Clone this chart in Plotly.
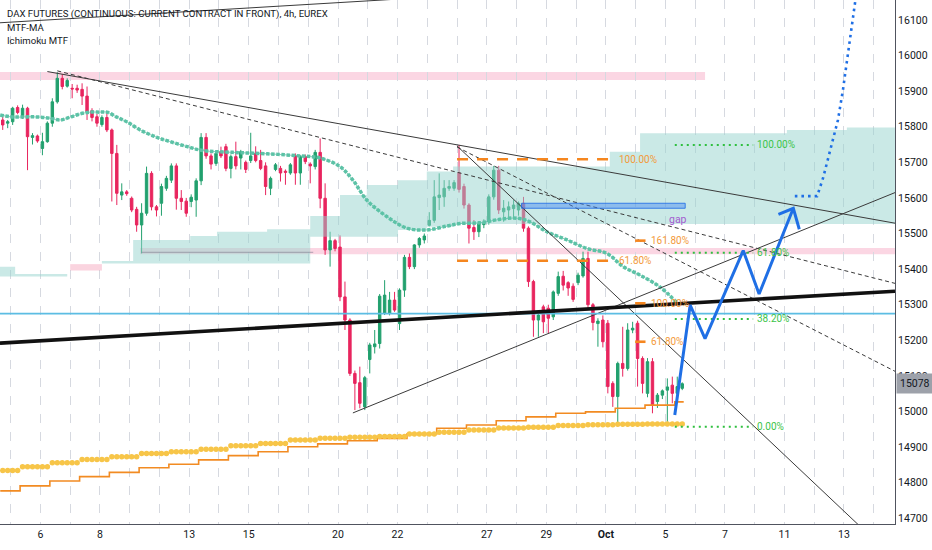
import plotly.graph_objects as go

# 4h candles, bar index 0 = first visible bar (Sep 3, 2021)
opens = [15819, 15810, 15814, 15854, 15828, 15852, 15770, 15774, 15739, 15758,
         15810, 15870, 15936, 15914, 15908, 15908, 15905, 15886, 15845, 15828,
         15806, 15826, 15791, 15725, 15608, 15617, 15599, 15568, 15524, 15557,
         15669, 15575, 15585, 15627, 15650, 15690, 15599, 15591, 15590, 15594,
         15648, 15770, 15718, 15697, 15730, 15744, 15683, 15716, 15712, 15700,
         15705, 15725, 15705, 15690, 15627, 15680, 15683, 15675, 15670, 15718,
         15670, 15716, 15695, 15688, 15728, 15599, 15454, 15480, 15462, 15322,
         15257, 15107, 15081, 15013, 15146, 15182, 15191, 15276, 15276, 15313,
         15247, 15341, 15433, 15407, 15468, 15482, 15523, 15537, 15601, 15603,
         15627, 15627, 15671, 15632, 15580, 15517, 15505, 15525, 15533, 15603,
         15678, 15561, 15566, 15570, 15566, 15585, 15515, 15365, 15257, 15294,
         15290, 15266, 15332, 15380, 15362, 15352, 15362, 15381, 15430, 15300,
         15247, 15257, 15248, 15079, 15042, 15135, 15121, 15229, 15248, 15149,
         15051, 15140, 15028, 15046, 15060, 15074, 15051, 15065]
highs = [15828, 15819, 15856, 15860, 15862, 15856, 15782, 15778, 15783, 15815,
         15880, 15953, 15948, 15936, 15920, 15918, 15922, 15913, 15852, 15836,
         15832, 15840, 15795, 15749, 15641, 15622, 15604, 15575, 15585, 15688,
         15675, 15580, 15640, 15662, 15697, 15697, 15622, 15600, 15610, 15655,
         15782, 15782, 15725, 15730, 15744, 15752, 15722, 15758, 15735, 15705,
         15783, 15745, 15735, 15700, 15660, 15698, 15690, 15680, 15698, 15725,
         15720, 15722, 15700, 15735, 15767, 15641, 15505, 15485, 15495, 15365,
         15262, 15115, 15126, 15100, 15193, 15229, 15330, 15369, 15336, 15336,
         15346, 15440, 15444, 15470, 15490, 15500, 15560, 15650, 15669, 15650,
         15650, 15650, 15749, 15640, 15585, 15538, 15535, 15540, 15610, 15690,
         15690, 15594, 15590, 15594, 15590, 15603, 15520, 15370, 15280, 15300,
         15300, 15340, 15393, 15395, 15366, 15360, 15390, 15449, 15449, 15305,
         15262, 15270, 15257, 15085, 15140, 15238, 15248, 15252, 15255, 15155,
         15150, 15150, 15052, 15062, 15093, 15098, 15098, 15082]
lows = [15791, 15796, 15805, 15835, 15822, 15678, 15750, 15755, 15720, 15755,
        15800, 15865, 15905, 15910, 15880, 15895, 15861, 15819, 15815, 15800,
        15800, 15785, 15590, 15580, 15594, 15606, 15560, 15505, 15444, 15550,
        15565, 15548, 15550, 15620, 15642, 15567, 15566, 15547, 15574, 15547,
        15636, 15710, 15680, 15690, 15712, 15675, 15655, 15680, 15680, 15670,
        15698, 15700, 15678, 15608, 15608, 15675, 15646, 15637, 15665, 15637,
        15637, 15695, 15641, 15680, 15571, 15440, 15407, 15450, 15310, 15229,
        15100, 15004, 15009, 15004, 15107, 15163, 15177, 15271, 15270, 15280,
        15229, 15322, 15400, 15400, 15460, 15472, 15520, 15530, 15566, 15575,
        15620, 15620, 15615, 15570, 15472, 15482, 15490, 15515, 15525, 15595,
        15555, 15533, 15540, 15545, 15550, 15505, 15350, 15210, 15210, 15220,
        15220, 15257, 15325, 15340, 15325, 15308, 15355, 15376, 15290, 15228,
        15182, 15180, 15051, 15013, 14967, 15098, 15115, 15220, 15070, 15051,
        15040, 14995, 15010, 15035, 14971, 15023, 15040, 15060]
closes = [15805, 15814, 15852, 15840, 15852, 15772, 15775, 15760, 15758, 15810,
          15870, 15936, 15913, 15930, 15906, 15903, 15886, 15842, 15826, 15810,
          15826, 15791, 15725, 15613, 15617, 15612, 15566, 15524, 15557, 15669,
          15575, 15566, 15632, 15655, 15690, 15599, 15590, 15557, 15602, 15648,
          15770, 15718, 15695, 15725, 15718, 15683, 15716, 15690, 15730, 15680,
          15718, 15705, 15683, 15632, 15655, 15693, 15670, 15672, 15693, 15670,
          15716, 15702, 15690, 15728, 15599, 15454, 15480, 15458, 15322, 15257,
          15107, 15079, 15023, 15095, 15187, 15190, 15324, 15327, 15313, 15285,
          15341, 15433, 15407, 15468, 15486, 15493, 15537, 15603, 15608, 15627,
          15632, 15643, 15624, 15580, 15515, 15505, 15528, 15530, 15603, 15678,
          15566, 15571, 15575, 15580, 15585, 15515, 15365, 15257, 15271, 15252,
          15262, 15336, 15379, 15355, 15347, 15315, 15383, 15430, 15300, 15250,
          15254, 15196, 15070, 15042, 15135, 15121, 15229, 15234, 15149, 15079,
          15140, 15018, 15046, 15058, 15069, 15051, 15070, 15078]
bars = list(range(len(opens)))

# day ticks (6 bars per trading day), first tick = Fri Sep 3
day_labels = ["", "6", "", "8", "", "", "13", "", "15", "", "", "20", "", "22", "",
              "", "27", "", "29", "", "<b>Oct</b>", "", "5", "", "7", "", "11", "", "13", ""]
day_ticks = [7.6 + 6 * (d - 1) for d in range(len(day_labels))]
price_ticks = list(range(14700, 16101, 100))

# MTF-MA: daily steps (first step change at bar 3.5)
ma_step_values = [14777, 14791, 14805, 14817, 14829, 14842, 14852, 14864, 14876, 14887,
                  14901, 14909, 14918, 14924, 14937, 14953, 14962, 14974, 14985, 14995,
                  14999, 15009, 15018, 15027]
ma_dot_values = [14834, 14845, 14856, 14865, 14873, 14882, 14887, 14894, 14904, 14910,
                 14920, 14925, 14928, 14930, 14937, 14942, 14948, 14954, 14956, 14961,
                 14963, 14964, 14965, 14965]

# Ichimoku line (teal dots)
teal_x = [-0.5, 1.5, 3.5, 5.5, 7.5, 9.5, 11.6, 13.6, 15.6, 17.6, 19.6, 21, 23, 25, 27.7,
          31.1, 33.1, 37.2, 40.4, 46.4, 53.3, 60, 64, 68, 70.6, 73.4, 77.5, 81.5, 85.5,
          89.6, 92.2, 96.2, 100.3, 103.7, 106.3, 109.7, 113.8, 117.8, 121.8, 125.1,
          128.5, 132.5, 135.9]
teal_y = [15833, 15828, 15827, 15828, 15827, 15824, 15819, 15827, 15836, 15841, 15841,
          15841, 15827, 15814, 15791, 15770, 15761, 15744, 15733, 15728, 15724, 15718,
          15712, 15688, 15650, 15594, 15547, 15515, 15510, 15521, 15528, 15530, 15540,
          15543, 15533, 15505, 15482, 15458, 15444, 15407, 15383, 15350, 15306]

# Ichimoku cloud
cloud_x = [20, 26.3, 37.8, 43.2, 53.3, 62, 68, 73.4, 79.7, 85.5, 90.8, 122.4, 128.5,
           158.1, 170.2, 180]
cloud_top = [15423, 15482, 15493, 15505, 15512, 15549, 15608, 15636, 15650, 15674,
             15688, 15730, 15782, 15791, 15798, 15798]
cloud_bot = [15416, 15416, 15416, 15416, 15416, 15491, 15491, 15491, 15510, 15519,
             15527, 15527, 15527, 15527, 15527, 15527]
left_cloud_x = [-0.55, 2.5, 13]
left_cloud_top = [15407, 15386, 15386]
left_cloud_bot = [15379, 15379, 15379]
red_cloud_x = [13.6, 20]
red_cloud_top = [15414, 15414]
red_cloud_bot = [15396, 15396]

# drawings
upper_x, upper_y = [-0.55, 85], [16092, 16163]
top_line_x, top_line_y = [9, 179.9], [15955, 15529]
dash_a_x, dash_a_y = [11, 179.9], [15957, 15360]
dash_b_x, dash_b_y = [91.6, 179.9], [15743, 15113]
steep_x, steep_y = [91.6, 176], [15746, 14636]
support_x, support_y = [70.6, 179.9], [14996, 15615]
thick_x, thick_y = [-0.55, 179.9], [15192, 15338]
gray_x, gray_y = [28, 62.6], [15447, 15447]
cyan_level = 15275

pink_top_zone = (-0.55, 141.6, 15931, 15954)
pink_mid_zone = (27.7, 180, 15442, 15459)
gap_zone = (104.6, 137.6, 15571, 15585)

fib_a_levels = [15708.6, 15423.6]
fib_a_text = ["100.00%", "61.80%"]
fib_b_levels = [15480, 15304, 15196]
fib_b_text = ["161.80%", "100.00%", "61.80%"]
fib_g_levels = [15749, 15446, 15260, 14957]
fib_g_text = ["100.00%", "61.80%", "38.20%", "0.00%"]

path_x = [135.5, 138.6, 141.6, 149.3, 152.5, 159.4]
path_y = [14990, 15299, 15205, 15452, 15330, 15571]
arrow_x = [156.4, 159.4, 160.6]
arrow_y = [15554, 15571, 15512]
target_x = [159.7, 164.2, 165.4, 166.8, 168.4, 169.4, 170.4, 171.2, 172.2]
target_y = [15605, 15605, 15656, 15735, 15819, 15903, 16002, 16086, 16184]

last_price = 15078

GREEN = "#22a06e"
RED = "#e8255e"
FONT = "Liberation Sans Narrow, Arial Narrow, Roboto, sans-serif"
CLOUD = "rgba(150, 212, 205, 0.5)"


def seg(i):
    return 0 if i < 4 else (i - 4) // 6 + 1


def line(fig, x, y, color, width=1, dash=None, shape="linear"):
    fig.add_trace(go.Scatter(x=x, y=y, mode="lines", hoverinfo="skip", showlegend=False,
                             line=dict(color=color, width=width, dash=dash, shape=shape)))


fig = go.Figure()

# cloud
for cx, ct, cb, col in [(left_cloud_x, left_cloud_top, left_cloud_bot, CLOUD),
                        (red_cloud_x, red_cloud_top, red_cloud_bot, "rgba(244, 160, 185, 0.45)"),
                        (cloud_x, cloud_top, cloud_bot, CLOUD)]:
    fig.add_trace(go.Scatter(x=cx, y=cb, mode="lines", line=dict(width=0, shape="hv"),
                             hoverinfo="skip", showlegend=False))
    fig.add_trace(go.Scatter(x=cx, y=ct, mode="lines", line=dict(width=0, shape="hv"),
                             fill="tonexty", fillcolor=col, hoverinfo="skip", showlegend=False))

line(fig, gray_x, gray_y, "rgba(120,115,135,0.45)", 1.2)

# MTF-MA
ma_x = [-0.5] + [3.5 + 6 * k for k in range(len(ma_step_values) - 1)] + [bars[-1] + 0.3]
line(fig, ma_x, ma_step_values + [ma_step_values[-1]], "#f28b22", 1.6, shape="hv")
fig.add_trace(go.Scatter(x=bars, y=[ma_dot_values[seg(i)] for i in bars], mode="markers",
                         marker=dict(color="#f7c548", size=5.5), hoverinfo="skip", showlegend=False))

# teal ichimoku line
line(fig, teal_x, teal_y, "rgba(80,190,160,0.7)", 1, shape="spline")
line(fig, teal_x, teal_y, "#5cc2a6", 3.5, dash="3.5px,1.6px", shape="spline")

# candles
fig.add_trace(go.Candlestick(
    x=bars, open=opens, high=highs, low=lows, close=closes,
    increasing=dict(line=dict(color=GREEN, width=1), fillcolor=GREEN),
    decreasing=dict(line=dict(color=RED, width=1), fillcolor=RED),
    whiskerwidth=0, hoverinfo="skip", showlegend=False))

# trend lines
line(fig, upper_x, upper_y, "#3a3a3a", 1)
line(fig, top_line_x, top_line_y, "#3a3a3a", 1)
line(fig, dash_a_x, dash_a_y, "#3a3a3a", 1, dash="4px,3px")
line(fig, dash_b_x, dash_b_y, "#3a3a3a", 1, dash="4px,3px")
line(fig, steep_x, steep_y, "#3a3a3a", 1)
line(fig, support_x, support_y, "#3a3a3a", 1)
line(fig, [-0.55, 179.9], [cyan_level, cyan_level], "#5cbde3", 1.6)
line(fig, thick_x, thick_y, "#111111", 3.6)

annotations = []

# fib A (orange dashed)
for lv, tx in zip(fib_a_levels, fib_a_text):
    line(fig, [91.6, 122.2], [lv, lv], "#f5861f", 2.6, dash="11px,9px")
    annotations.append(dict(x=123.9, y=lv, text=tx, xanchor="left", yanchor="middle",
                            showarrow=False, font=dict(color="#f39a3a", size=10, family=FONT)))
# fib B (orange ticks)
for lv, tx in zip(fib_b_levels, fib_b_text):
    line(fig, [127.5, 129.6], [lv, lv], "#f5861f", 2.6)
    annotations.append(dict(x=130.2, y=lv, text=tx, xanchor="left", yanchor="middle",
                            showarrow=False, font=dict(color="#f39a3a", size=10, family=FONT)))
# fib green (dotted)
for lv, tx in zip(fib_g_levels, fib_g_text):
    line(fig, [135.5, 151.3], [lv, lv], "#2fbf3f", 2, dash="2px,4px")
    annotations.append(dict(x=151.6, y=lv, text=tx, xanchor="left", yanchor="middle",
                            showarrow=False, font=dict(color="#3cc44a", size=10, family=FONT)))

# projected path
line(fig, path_x, path_y, "#1f6fe5", 3)
line(fig, arrow_x, arrow_y, "#1f6fe5", 3)
line(fig, target_x, target_y, "#1f6fe5", 2.6, dash="2.6px,4px")

shapes = []
for (x0, x1, y0, y1) in [pink_top_zone, pink_mid_zone]:
    shapes.append(dict(type="rect", xref="x", yref="y", x0=x0, x1=x1, y0=y0, y1=y1,
                       fillcolor="rgba(248, 187, 208, 0.6)", line=dict(width=0), layer="below"))
x0, x1, y0, y1 = gap_zone
shapes.append(dict(type="rect", xref="x", yref="y", x0=x0, x1=x1, y0=y0, y1=y1,
                   fillcolor="rgba(66, 133, 244, 0.45)", line=dict(color="rgba(33,110,230,0.85)", width=1),
                   layer="above"))
annotations.append(dict(x=x1 - 1.5, y=y0 - 8, text="gap", xanchor="center", yanchor="top",
                        showarrow=False, font=dict(color="#a35bd0", size=10.5, family=FONT)))

# legend texts
for yy, tx in [(14, "DAX FUTURES (CONTINUOUS: CURRENT CONTRACT IN FRONT), 4h, EUREX"),
               (27.5, "MTF-MA"), (41, "Ichimoku MTF")]:
    annotations.append(dict(xref="paper", yref="paper", x=5 / 895, y=1 - yy / 524, text=tx,
                            xanchor="left", yanchor="middle", showarrow=False,
                            font=dict(color="#131722", size=9.6, family=FONT)))

# last price label
annotations.append(dict(xref="paper", yref="y", x=1, y=last_price, text=str(last_price),
                        xanchor="left", yanchor="middle", showarrow=False, xshift=1,
                        bgcolor="#9da1aa", borderpad=3,
                        font=dict(color="#131722", size=10.5, family=FONT)))

fig.update_layout(
    width=932, height=550,
    margin=dict(l=0, r=37, t=0, b=26),
    plot_bgcolor="white", paper_bgcolor="white",
    showlegend=False, hovermode=False,
    shapes=shapes, annotations=annotations,
    xaxis=dict(range=[-0.55, 179.9], tickvals=day_ticks, ticktext=day_labels,
               showgrid=True, gridcolor="#d6d9e0", griddash="dash", gridwidth=1,
               zeroline=False, showline=True, linecolor="#50535e", linewidth=1,
               ticks="", rangeslider=dict(visible=False),
               tickfont=dict(color="#131722", size=10.5, family=FONT)),
    yaxis=dict(range=[14684, 16156], side="right", tickvals=price_ticks, tickformat="d",
               showgrid=False, zeroline=False, showline=True, linecolor="#50535e",
               linewidth=1, ticks="",
               tickfont=dict(color="#131722", size=10.5, family=FONT)),
)

# drop the default page margin so the chart sits at the window's top-left corner
fig.write_html("out.html", config={"displayModeBar": False},
               post_script="document.body.style.margin='0';")
